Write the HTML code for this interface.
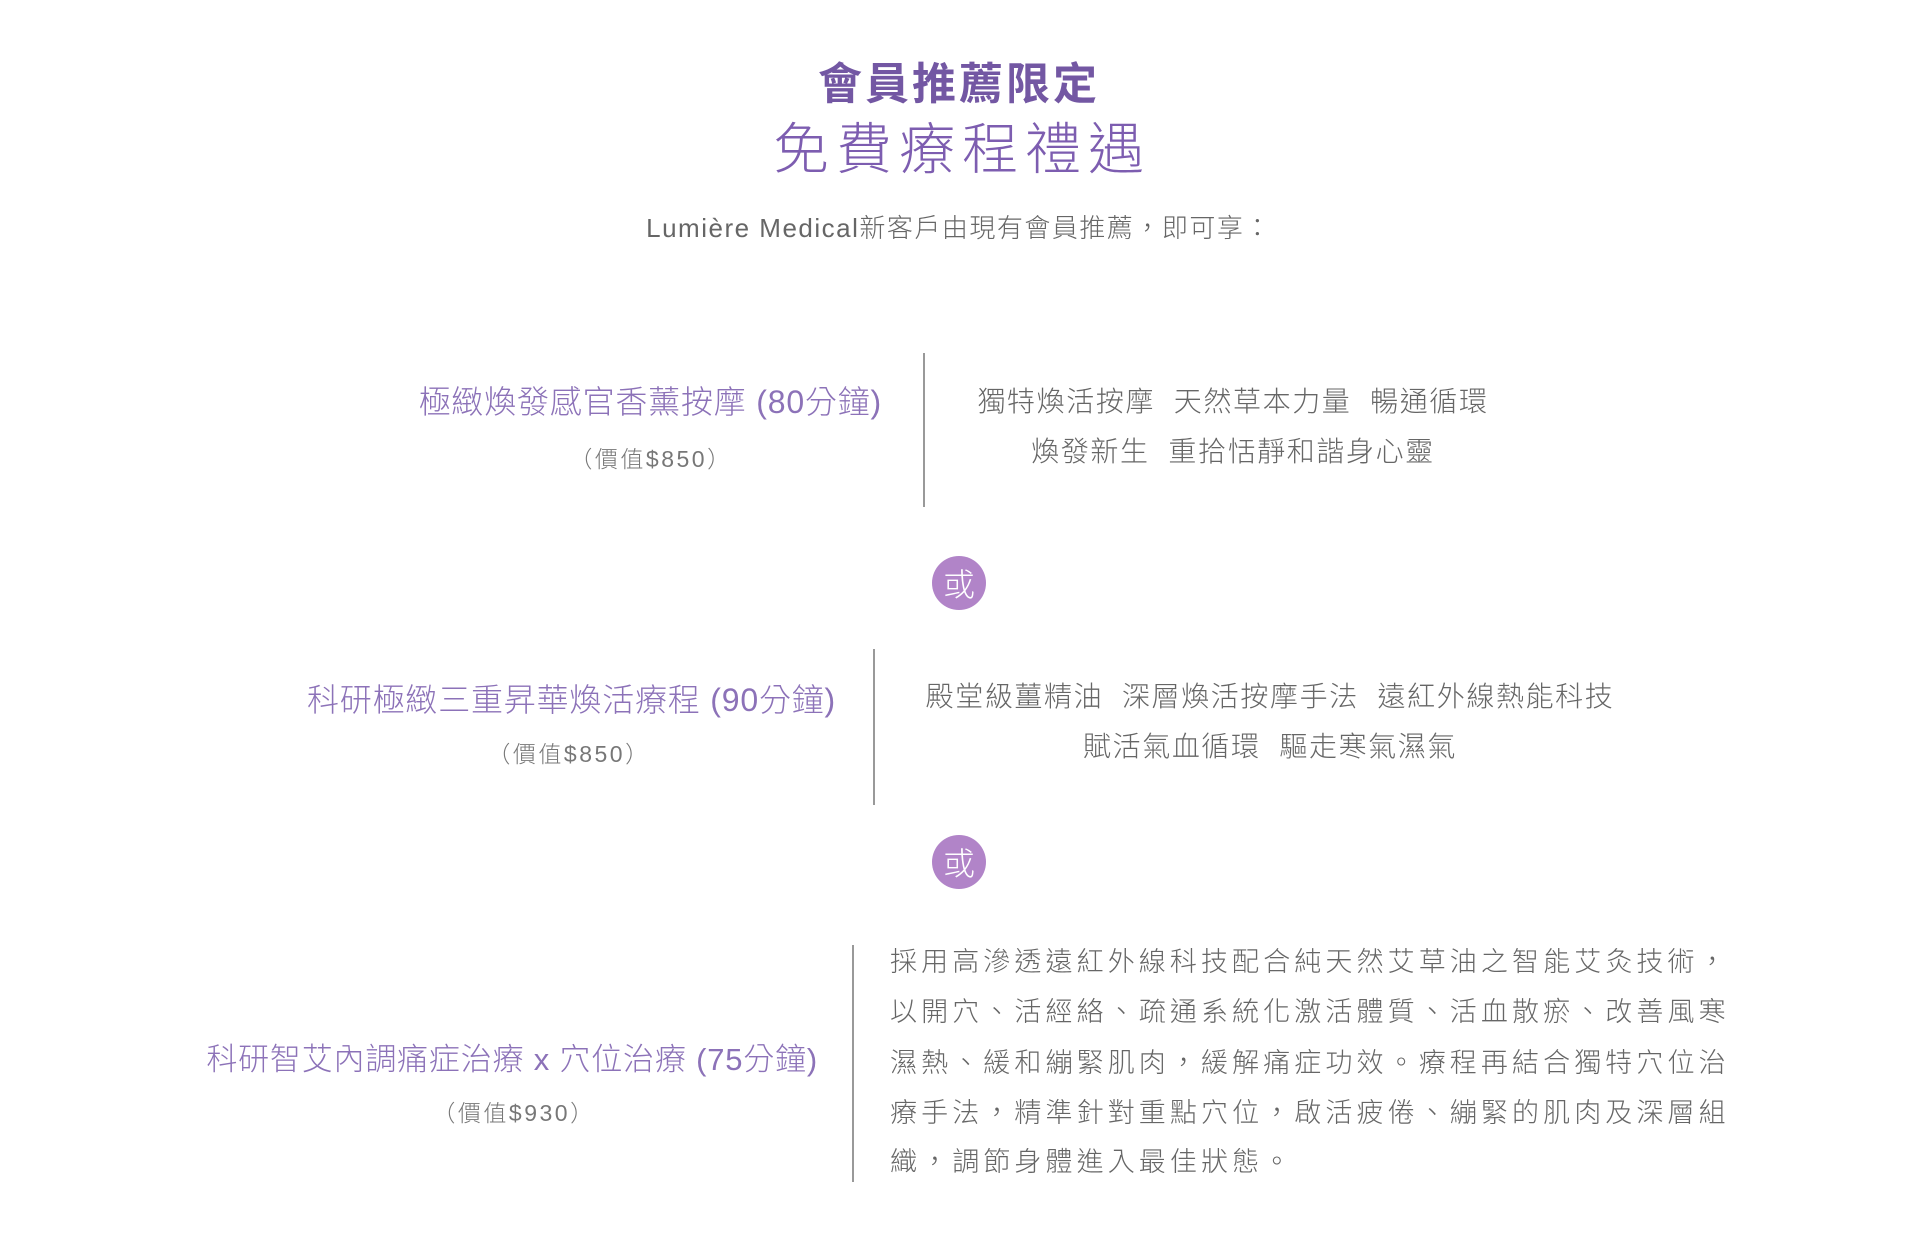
<!DOCTYPE html>
<html><head><meta charset="utf-8"><style>
html,body{margin:0;padding:0;background:#fff;}
body{width:1920px;height:1260px;position:relative;overflow:hidden;font-family:"Liberation Sans","Noto Sans CJK TC",sans-serif;font-weight:300;}
.a{position:absolute;white-space:nowrap;line-height:1;}
.c{transform:translateX(-50%);}
.pt{color:#8c72b8;font-size:32px;letter-spacing:0.8px;}
.pr{color:#777;font-size:23px;letter-spacing:2.5px;}
.g{color:#666;font-size:28px;letter-spacing:1.6px;}
.p{color:#666;font-size:27px;letter-spacing:4.1px;}
.vl{position:absolute;width:2px;background:#999;}
.or{position:absolute;width:54px;height:54px;border-radius:50%;background:#b184c8;color:#fff;font-size:32px;line-height:54px;text-align:center;font-family:"Noto Sans CJK TC",sans-serif;}
</style></head><body>
<div class="a c" style="left:959px;top:58px;font-size:44px;font-weight:700;color:#7357a3;letter-spacing:3px;font-family:'Noto Sans CJK TC',sans-serif;">會員推薦限定</div>
<div class="a c" style="left:962px;top:118px;font-size:56px;color:#7d5db0;letter-spacing:7px;font-family:'Noto Sans CJK TC',sans-serif;font-weight:300;">免費療程禮遇</div>
<div class="a c" style="left:959px;top:215px;font-size:26px;color:#666;letter-spacing:1.5px;">Lumière Medical新客戶由現有會員推薦，即可享：</div>

<div class="a pt" style="right:1038px;top:386px;">極緻煥發感官香薰按摩 (80分鐘)</div>
<div class="a pr c" style="left:651px;top:448px;">（價值$850）</div>
<div class="vl" style="left:923px;top:353px;height:154px;"></div>
<div class="a g c" style="left:1233px;top:388px;">獨特煥活按摩&nbsp; 天然草本力量&nbsp; 暢通循環</div>
<div class="a g c" style="left:1233px;top:438px;">煥發新生&nbsp; 重拾恬靜和諧身心靈</div>

<div class="or" style="left:932px;top:556px;">或</div>

<div class="a pt" style="right:1084px;top:684px;">科研極緻三重昇華煥活療程 (90分鐘)</div>
<div class="a pr c" style="left:569px;top:743px;">（價值$850）</div>
<div class="vl" style="left:873px;top:649px;height:156px;"></div>
<div class="a g c" style="left:1270px;top:683px;">殿堂級薑精油&nbsp; 深層煥活按摩手法&nbsp; 遠紅外線熱能科技</div>
<div class="a g c" style="left:1270px;top:733px;">賦活氣血循環&nbsp; 驅走寒氣濕氣</div>

<div class="or" style="left:932px;top:835px;">或</div>

<div class="a pt" style="right:1102px;top:1044px;font-size:31px;">科研智艾內調痛症治療 x 穴位治療 (75分鐘)</div>
<div class="a pr c" style="left:514px;top:1102px;">（價值$930）</div>
<div class="vl" style="left:852px;top:945px;height:237px;"></div>
<div class="a p" style="left:890px;top:949px;">採用高滲透遠紅外線科技配合純天然艾草油之智能艾灸技術，</div>
<div class="a p" style="left:890px;top:999px;">以開穴、活經絡、疏通系統化激活體質、活血散瘀、改善風寒</div>
<div class="a p" style="left:890px;top:1050px;">濕熱、緩和繃緊肌肉，緩解痛症功效。療程再結合獨特穴位治</div>
<div class="a p" style="left:890px;top:1100px;">療手法，精準針對重點穴位，啟活疲倦、繃緊的肌肉及深層組</div>
<div class="a p" style="left:890px;top:1149px;">織，調節身體進入最佳狀態。</div>
</body></html>
